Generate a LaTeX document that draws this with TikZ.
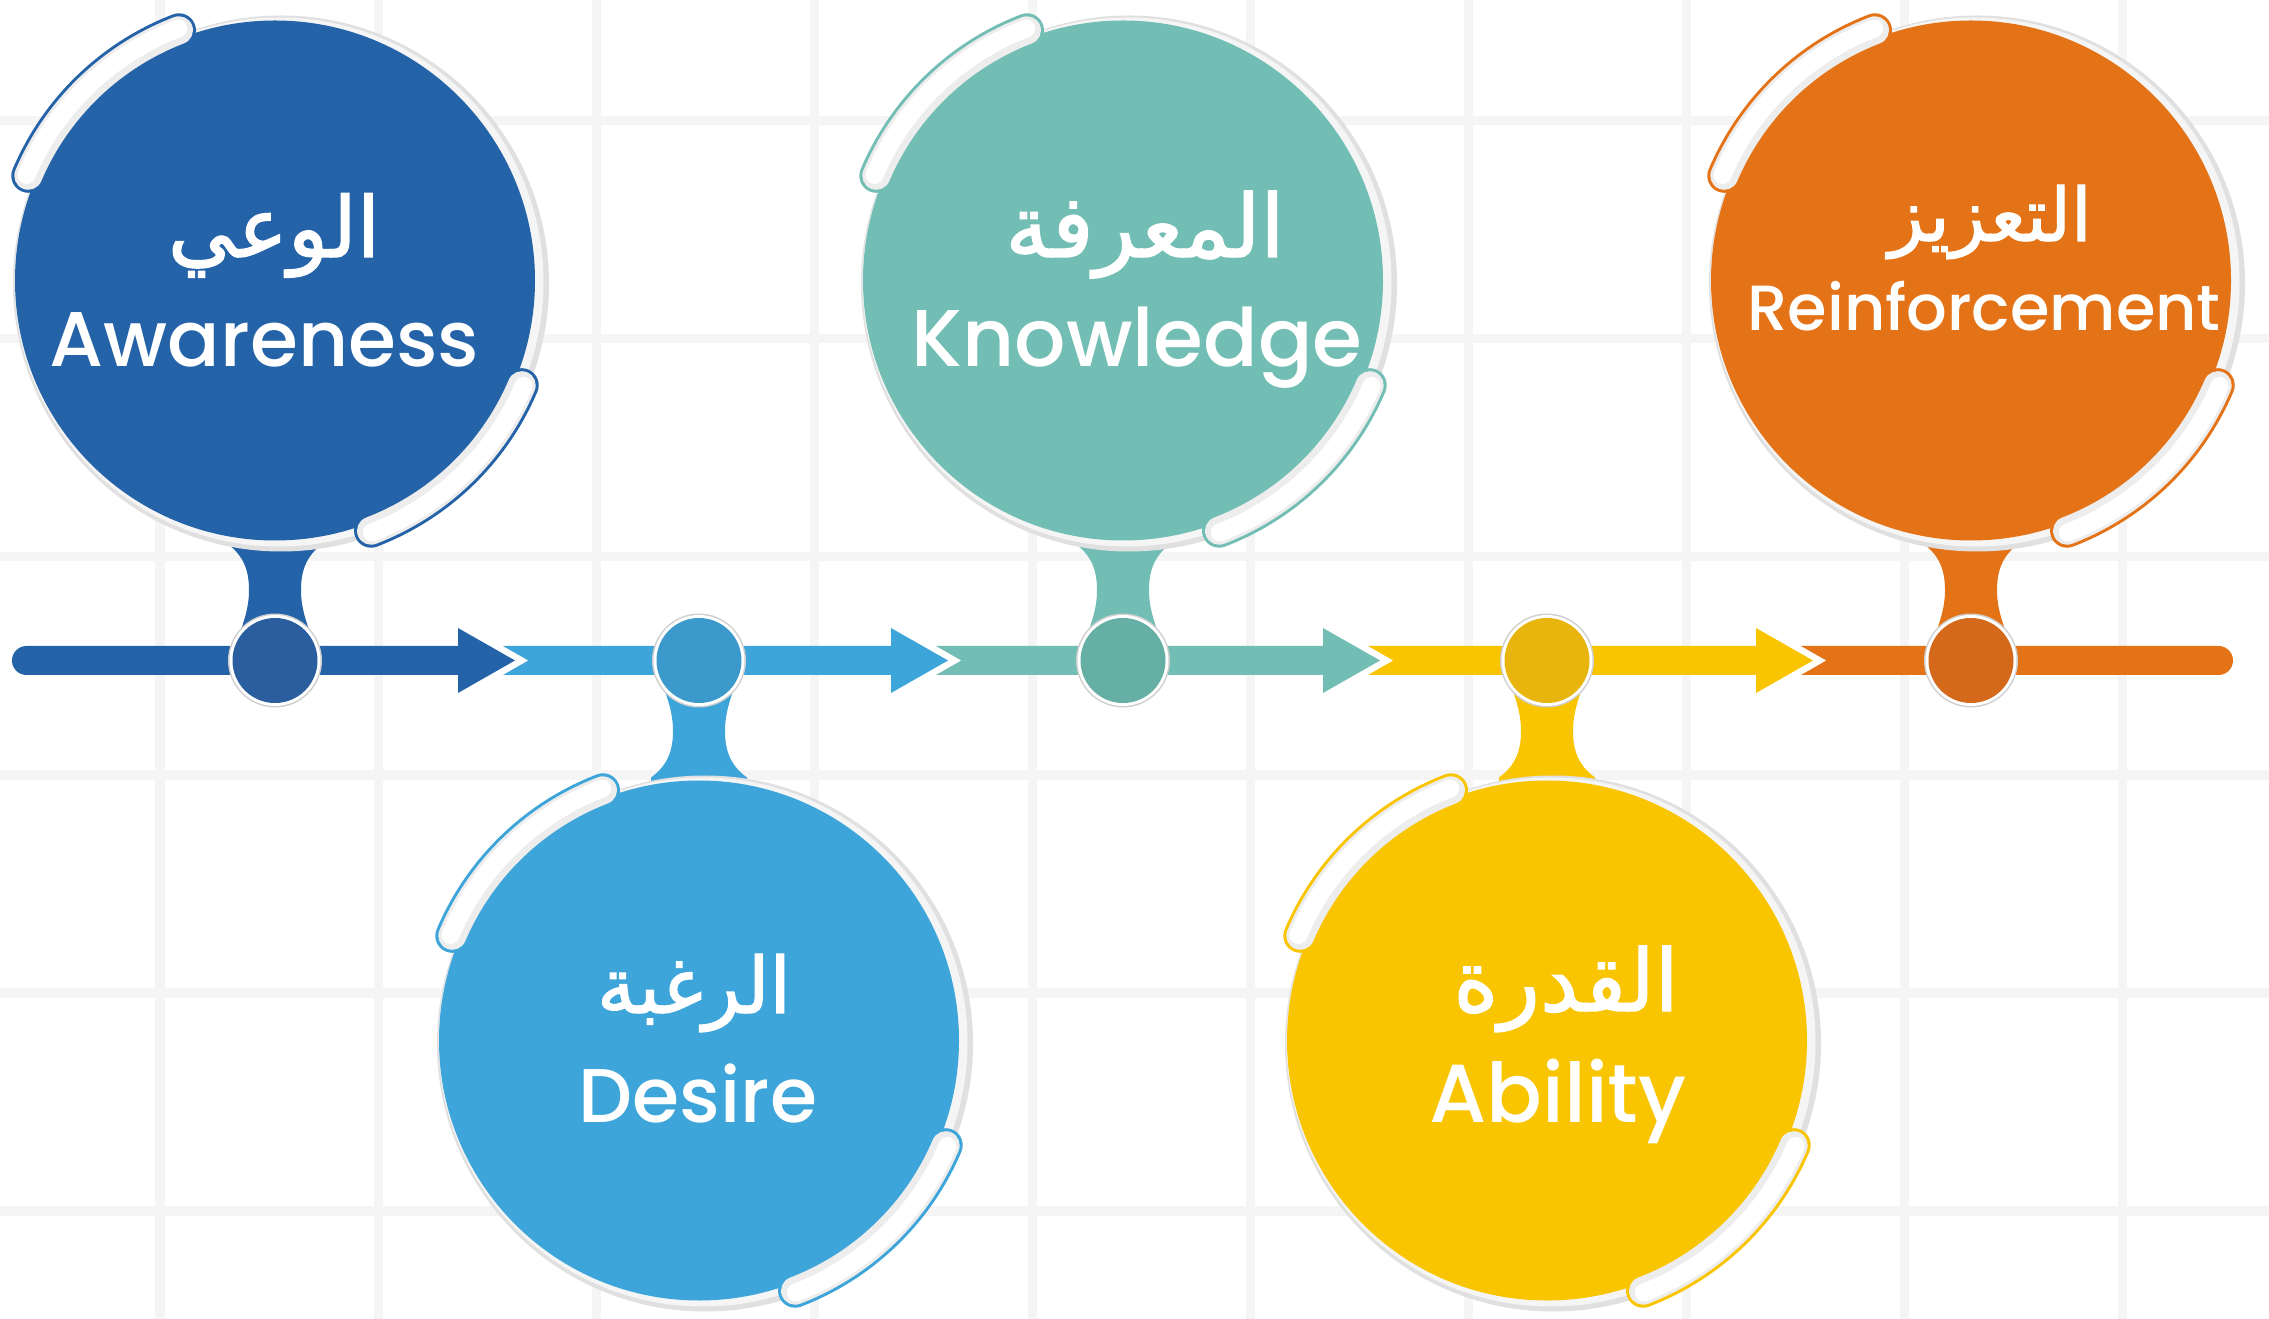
\documentclass[tikz,border=0pt]{standalone}
\usepackage{fontspec}
\usepackage{graphicx}
\usetikzlibrary{calc}
\TeXXeTstate=1
\newfontfamily\arabicfont[Script=Arabic, FakeBold=1.6]{DejaVu Sans}
\newfontfamily\engfont{Poppins}[UprightFont={* Medium}]
\definecolor{cA}{HTML}{2563A8}
\definecolor{cAn}{HTML}{2A5E9E}
\definecolor{cB}{HTML}{3DA5D9}
\definecolor{cBn}{HTML}{3B9ACB}
\definecolor{cC}{HTML}{72BEB4}
\definecolor{cCn}{HTML}{66AFA5}
\definecolor{cD}{HTML}{F9C400}
\definecolor{cDn}{HTML}{E7B50D}
\definecolor{cE}{HTML}{E47318}
\definecolor{cEn}{HTML}{D4691C}
\definecolor{gridgray}{HTML}{F5F5F5}
\definecolor{ringgray}{HTML}{E0E0E0}
\definecolor{ringwhite}{HTML}{F5F5F5}
\definecolor{nodegray}{HTML}{CFCFCF}
\definecolor{capsgray}{HTML}{EDEDED}
\begin{document}
\begin{tikzpicture}[x=0.01cm,y=-0.01cm,
  gridline/.style={draw=gridgray, line width=0.09cm},
  txt/.style={text=white, inner sep=0pt, anchor=base},
  capsout/.style={line width=0.34cm, line cap=round},
  capsmid/.style={capsgray, line width=0.28cm, line cap=round},
  capsin/.style={white, line width=0.18cm, line cap=round}]
\useasboundingbox (0,0) rectangle (2269,1319);
\fill[white] (0,0) rectangle (2269,1319);
% background grid
\foreach \gx in {160,378,...,2122} \draw[gridline] (\gx,0) -- (\gx,1319);
\foreach \gy in {121,339,...,1211} \draw[gridline] (0,\gy) -- (2269,\gy);
% timeline segments
\fill[cA] (26.5,660.5) circle (14.5);
\fill[cA] (26.5,646) -- (458,646) -- (458,628) -- (515,660.5) -- (458,693) -- (458,675) -- (26.5,675) -- cycle;
\fill[cB] (503,646) -- (891,646) -- (891,628) -- (948,660.5) -- (891,693) -- (891,675) -- (503,675) -- (528.4,660.5) -- cycle;
\fill[cC] (936,646) -- (1323,646) -- (1323,628) -- (1380,660.5) -- (1323,693) -- (1323,675) -- (936,675) -- (961.4,660.5) -- cycle;
\fill[cD] (1368,646) -- (1756,646) -- (1756,628) -- (1813,660.5) -- (1756,693) -- (1756,675) -- (1368,675) -- (1393.4,660.5) -- cycle;
\fill[cE] (1801,646) -- (2218.5,646) -- (2218.5,675) -- (1801,675) -- (1826.4,660.5) -- cycle;
\fill[cE] (2218.5,660.5) circle (14.5);
% circles, stems, nodes
\foreach \i/\x/\d/\col/\ncol in {1/275/-1/cA/cAn, 2/699/1/cB/cBn, 3/1123/-1/cC/cCn, 4/1547/1/cD/cDn, 5/1971/-1/cE/cEn}{
  \coordinate (c\i) at (\x,{660.5+\d*380});
  \coordinate (n\i) at (\x,660.5);
  \fill[\col] ({\x-48},{660.5+\d*140}) -- ({\x-48},{660.5+\d*117})
     .. controls ({\x-30},{660.5+\d*104}) and ({\x-26},{660.5+\d*88}) .. ({\x-26},{660.5+\d*70})
     .. controls ({\x-26},{660.5+\d*52}) and ({\x-32},{660.5+\d*36}) .. ({\x-38},{660.5+\d*20})
     -- ({\x+38},{660.5+\d*20})
     .. controls ({\x+32},{660.5+\d*36}) and ({\x+26},{660.5+\d*52}) .. ({\x+26},{660.5+\d*70})
     .. controls ({\x+26},{660.5+\d*88}) and ({\x+30},{660.5+\d*104}) .. ({\x+48},{660.5+\d*117})
     -- ({\x+48},{660.5+\d*140}) -- cycle;
  \fill[ringgray] ($(c\i)+(6,3)$) circle (268);
  \fill[ringwhite] ($(c\i)+(4,1.5)$) circle (264.5);
  \fill[\col] (c\i) circle (260);
  \foreach \a/\b in {-111/-157, -291/-337}{
    \draw[\col, capsout] ($(c\i)+(\a:268)$) arc[start angle=\a, end angle=\b, radius=268];
    \draw[capsmid] ($(c\i)+(\a:268)$) arc[start angle=\a, end angle=\b, radius=268];
    \draw[capsin] ($(c\i)+(\a:270)$) arc[start angle=\a, end angle=\b, radius=270];
  }
  \fill[nodegray] (n\i) circle (47);
  \fill[white] (n\i) circle (45.5);
  \fill[\ncol] (n\i) circle (42.5);
}
% texts
\node[txt] (ar1) at (274,257) {\resizebox{2.12cm}{!}{\arabicfont\beginR الوعي\endR}};
\node[txt] (en1) at (264.5,367) {\resizebox{4.29cm}{!}{\engfont Awareness}};
\node[txt] (ar2) at (694,1013) {\resizebox{1.94cm}{!}{\arabicfont\beginR الرغبة\endR}};
\node[txt] (en2) at (698,1122) {\resizebox{2.38cm}{!}{\engfont Desire}};
\node[txt] (ar3) at (1145,257) {\resizebox{2.79cm}{!}{\arabicfont\beginR المعرفة\endR}};
\node[txt] (en3) at (1137,367) {\resizebox{4.51cm}{!}{\engfont Knowledge}};
\node[txt] (ar4) at (1566,1011) {\resizebox{2.25cm}{!}{\arabicfont\beginR القدرة\endR}};
\node[txt] (en4) at (1558,1122) {\resizebox{2.57cm}{!}{\engfont Ability}};
\node[txt] (ar5) at (1990,241) {\resizebox{2.03cm}{!}{\arabicfont\beginR التعزيز\endR}};
\node[txt] (en5) at (1984,331) {\resizebox{4.73cm}{!}{\engfont Reinforcement}};
\end{tikzpicture}
\end{document}
